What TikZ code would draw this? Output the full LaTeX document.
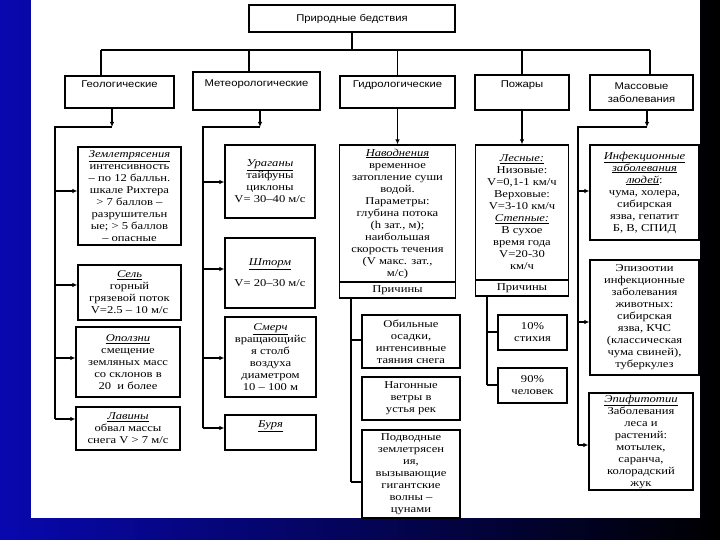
\documentclass[tikz,border=0pt]{standalone}
\usepackage{fontspec}
\setmainfont{Liberation Serif}[FakeStretch=1.2]
\setsansfont{Liberation Sans}[FakeStretch=1.15]
\usetikzlibrary{arrows.meta}
\newcommand\ulit[1]{\underline{\textit{#1}}}
\begin{document}
\begin{tikzpicture}[x=1pt,y=-1pt,
 box/.style={draw=black, line width=1.3pt, fill=white, align=center, inner sep=1pt, font=\fontsize{10.5}{12}\selectfont},
 hbox/.style={draw=black, line width=1.3pt, fill=white, align=center, inner sep=1pt, font=\sffamily\fontsize{9.8}{12.5}\selectfont},
 ln/.style={line width=1.3pt},
 arr/.style={line width=1.3pt,-{Latex[length=5pt,width=4.5pt]}},
]
\useasboundingbox (0,0) rectangle (720,540);
\shade[left color={rgb,255:red,8;green,8;blue,175}, right color=black] (0,0) rectangle (720,540);
\fill[white] (31,0) rectangle (700,518);

% level 1 and 2
\node[hbox, minimum width=206pt, minimum height=27pt] (top) at (352,18.5) {Природные бедствия};
\node[hbox, minimum width=109pt, minimum height=32pt] (geo) at (119.5,92) {Геологические\\\strut};
\node[hbox, minimum width=127pt, minimum height=38pt] (meteo) at (256.5,91) {Метеорологические\\\strut};
\node[hbox, minimum width=115pt, minimum height=32pt] (hydro) at (397.5,92) {Гидрологические\\\strut};
\node[hbox, minimum width=94pt, minimum height=35pt] (fire) at (522,92.5) {Пожары\\\strut};
\node[hbox, minimum width=103pt, minimum height=35pt] (mass) at (641.5,92.5) {Массовые\\заболевания};

\coordinate (t0) at (352,50);
\coordinate (tl) at (101,50);
\coordinate (tm) at (249,50);
\coordinate (th) at (397.5,50);
\coordinate (tf) at (522,50);
\coordinate (tr) at (650,50);
\draw[ln] (top.south) -- (t0);
\draw[ln] (tl) -- (tr);
\draw[ln] (tl) -- (tl |- geo.north);
\draw[ln] (tm) -- (tm |- meteo.north);
\draw[ln] (th) -- (th |- hydro.north);
\draw[ln] (tf) -- (tf |- fire.north);
\draw[ln] (tr) -- (tr |- mass.north);

% geological
\node[box, minimum width=103pt, minimum height=98pt] (zem) at (129.5,196)
 {\ulit{Землетрясения}\\интенсивность\\– по 12 балльн.\\шкале Рихтера\\> 7 баллов –\\разрушительн\\ые; > 5 баллов\\– опасные};
\node[box, minimum width=103pt, minimum height=55pt] (sel) at (129.5,292.5)
 {\ulit{Сель}\\горный\\грязевой поток\\V=2.5 – 10 м/с};
\node[box, minimum width=104pt, minimum height=70pt] (opol) at (128,362)
 {\ulit{Оползни}\\смещение\\земляных масс\\со склонов в\\20~~и более};
\node[box, minimum width=104pt, minimum height=43pt] (lav) at (128,428.5)
 {\ulit{Лавины}\\обвал массы\\снега V > 7 м/с};

\coordinate (ga) at (112,127);
\coordinate (gt) at (55,127);
\coordinate (g1) at (55,191);
\coordinate (g2) at (55,285);
\coordinate (g3) at (55,358);
\coordinate (gb) at (55,419);
\draw[arr] (ga |- geo.south) -- (ga);
\draw[ln] (ga) -- (gt) -- (gb);
\draw[arr] (g1) -- (g1 -| zem.west);
\draw[arr] (g2) -- (g2 -| sel.west);
\draw[arr] (g3) -- (g3 -| opol.west);
\draw[arr] (gb) -- (gb -| lav.west);

% meteorological
\node[box, minimum width=90pt, minimum height=73pt] (ur) at (270,181.5)
 {\ulit{Ураганы}\\тайфуны\\циклоны\\V= 30–40 м/с};
\node[box, minimum width=90pt, minimum height=70pt] (sht) at (270,273)
 {\ulit{Шторм}\\[9pt]V= 20–30 м/с};
\node[box, minimum width=91pt, minimum height=80pt] (smer) at (270.5,357)
 {\ulit{Смерч}\\вращающийс\\я столб\\воздуха\\диаметром\\10 – 100 м};
\node[box, minimum width=91pt, minimum height=35pt] (bur) at (270.5,432.5)
 {\ulit{Буря}\\\strut};

\coordinate (ea) at (260,127);
\coordinate (et) at (203,127);
\coordinate (e1) at (203,182);
\coordinate (e2) at (203,269);
\coordinate (e3) at (203,358);
\coordinate (eb) at (203,428);
\draw[arr] (ea |- meteo.south) -- (ea);
\draw[ln] (ea) -- (et) -- (eb);
\draw[arr] (e1) -- (e1 -| ur.west);
\draw[arr] (e2) -- (e2 -| sht.west);
\draw[arr] (e3) -- (e3 -| smer.west);
\draw[arr] (eb) -- (eb -| bur.west);

% hydrological
\node[box, minimum width=116pt, minimum height=137pt] (nav) at (397.5,213.5)
 {\ulit{Наводнения}\\временное\\затопление суши\\водой.\\Параметры:\\глубина потока\\(h зат., м);\\наибольшая\\скорость течения\\(V макс. зат.,\\м/с)};
\node[box, minimum width=116pt, minimum height=16pt] (navp) at (397.5,290) {Причины};
\draw[arr] (hydro.south) -- (nav.north);

\node[box, minimum width=98pt, minimum height=53pt] (obil) at (411,341.5)
 {Обильные\\осадки,\\интенсивные\\таяния снега};
\node[box, minimum width=98pt, minimum height=43pt] (nagon) at (411,398.5)
 {Нагонные\\ветры в\\устья рек};
\node[box, minimum width=98pt, minimum height=88pt] (podv) at (411,474)
 {Подводные\\землетрясен\\ия,\\вызывающие\\гигантские\\волны –\\цунами};

\coordinate (h0) at (351,298);
\coordinate (h1) at (351,340);
\coordinate (h3) at (351,482);
\draw[ln] (h0) -- (h3);
\draw[ln] (h1) -- (h1 -| obil.west);
\draw[ln] (h3) -- (h3 -| podv.west);

% fires
\node[box, minimum width=93pt, minimum height=135pt] (les) at (522,212.5)
 {\ulit{Лесные:}\\Низовые:\\V=0,1-1 км/ч\\Верховые:\\V=3-10 км/ч\\\ulit{Степные:}\\В сухое\\время года\\V=20-30\\км/ч};
\node[box, minimum width=93pt, minimum height=16pt] (lesp) at (522,288) {Причины};
\draw[arr] (fire.south) -- (les.north);

\node[box, minimum width=69pt, minimum height=35pt] (p10) at (532.5,332.5) {10\%\\стихия};
\node[box, minimum width=69pt, minimum height=35pt] (p90) at (532.5,385.5) {90\%\\человек};

\coordinate (f0) at (487,296);
\coordinate (f1) at (487,332);
\coordinate (f2) at (487,385);
\draw[ln] (f0) -- (f2);
\draw[ln] (f1) -- (f1 -| p10.west);
\draw[ln] (f2) -- (f2 -| p90.west);

% mass diseases
\node[box, minimum width=109pt, minimum height=95pt] (inf) at (644.5,192.5)
 {\ulit{Инфекционные}\\\ulit{заболевания}\\\ulit{людей}:\\чума, холера,\\сибирская\\язва, гепатит\\Б, В, СПИД};
\node[box, minimum width=109pt, minimum height=115pt] (epiz) at (644.5,317.5)
 {Эпизоотии\\инфекционные\\заболевания\\животных:\\сибирская\\язва, КЧС\\(классическая\\чума свиней),\\туберкулез};
\node[box, minimum width=104pt, minimum height=97pt] (epif) at (641,441.5)
 {\ulit{Эпифитотии}\\Заболевания\\леса и\\растений:\\мотылек,\\саранча,\\колорадский\\жук};

\coordinate (ma) at (647,127);
\coordinate (mt) at (578,127);
\coordinate (m1) at (578,191);
\coordinate (m2) at (578,322);
\coordinate (mb) at (578,445);
\draw[arr] (ma |- mass.south) -- (ma);
\draw[ln] (ma) -- (mt) -- (mb);
\draw[arr] (m1) -- (m1 -| inf.west);
\draw[arr] (m2) -- (m2 -| epiz.west);
\draw[arr] (mb) -- (mb -| epif.west);
\end{tikzpicture}
\end{document}
